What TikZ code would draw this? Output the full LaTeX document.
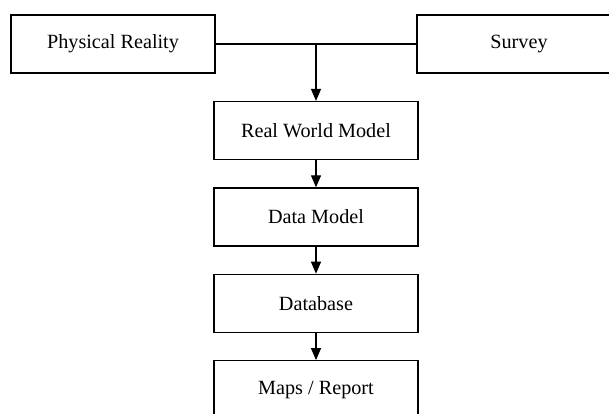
\documentclass[tikz,border=0pt]{standalone}
\usepackage{fontspec}
\setmainfont{Liberation Serif}
\usetikzlibrary{positioning,arrows.meta}

\begin{document}
\begin{tikzpicture}[x=0.5pt, y=-0.5pt, >={Triangle[width=5pt,length=6pt]},
    box/.style={draw, line width=0.6pt, minimum width=102pt, minimum height=29pt,
        inner sep=0pt, font=\fontsize{10.1}{12}\selectfont},
    node distance=13.6pt]
    \useasboundingbox (0,0) rectangle (609,413);

    % sources
    \node[box] (phys) at (113,44) {Physical Reality};
    \node[box] (survey) at (519,44) {Survey};

    % processing chain
    \node[box] (real) at (316,130.5) {Real World Model};
    \node[box, below=of real] (data) {Data Model};
    \node[box, below=of data] (db) {Database};
    \node[box, below=of db] (maps) {Maps / Report};

    \coordinate (join) at (real |- phys.east);
    \draw[line width=0.6pt] (phys.east) -- (survey.west);
    \draw[->, line width=0.6pt] (join) -- (real.north);
    \draw[->, line width=0.6pt] (real) -- (data);
    \draw[->, line width=0.6pt] (data) -- (db);
    \draw[->, line width=0.6pt] (db) -- (maps);
\end{tikzpicture}
\end{document}
